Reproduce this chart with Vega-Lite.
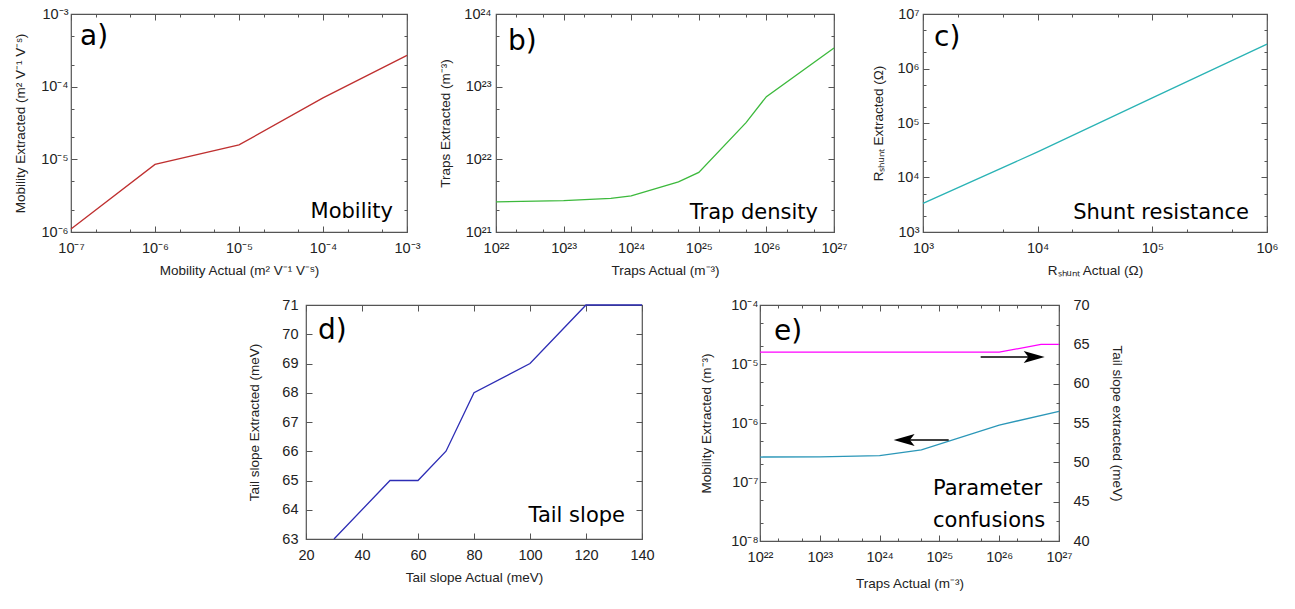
{
  "$schema": "https://vega.github.io/schema/vega-lite/v6.json",
  "background": "white",
  "padding": {"left": 13, "top": 5, "right": 5, "bottom": 5},
  "config": {
    "view": {"stroke": "#555555", "strokeWidth": 1.2},
    "axis": {"domain": false, "grid": false, "labelFont": "Liberation Sans", "labelFontSize": 14.5, "labelColor": "#222222", "titleFont": "Liberation Sans", "titleFontSize": 13.5, "titleFontWeight": "normal", "titleColor": "#222222", "tickColor": "#555555", "tickWidth": 1, "labelFlush": false, "labelOverlap": false, "labelBound": false},
    "text": {"font": "DejaVu Sans", "color": "#000000"}
  },
  "spacing": 18,
  "vconcat": [
    {
      "bounds": "flush",
      "spacing": 89,
      "hconcat": [
        {
          "width": 336, "height": 218,
          "resolve": {"axis": {"x": "independent", "y": "independent"}},
          "layer": [
            {
              "data": {"values": [{"actual": 1e-7, "extracted": 1.1e-6}, {"actual": 1e-6, "extracted": 8.5e-6}, {"actual": 1e-5, "extracted": 1.58e-5}, {"actual": 1e-4, "extracted": 7.0e-5}, {"actual": 1e-3, "extracted": 2.7e-4}]},
              "mark": {"type": "line", "color": "#bf3030", "strokeWidth": 1.3},
              "encoding": {
                "x": {"field": "actual", "type": "quantitative", "scale": {"type": "log", "domain": [1e-7, 1e-3], "nice": false},
                  "axis": {"orient": "bottom", "labelOverlap": false, "values": [1e-7, 2e-7, 5e-7, 1e-6, 2e-6, 5e-6, 1e-5, 2e-5, 5e-5, 0.0001, 0.0002, 0.0005, 0.001],
                    "labelExpr": "abs(log(datum.value)/LN10 - round(log(datum.value)/LN10)) > 0.01 ? '' : '10' + (round(log(datum.value)/LN10) < 0 ? '⁻' : '') + (abs(round(log(datum.value)/LN10)) >= 10 ? substring('⁰¹²³⁴⁵⁶⁷⁸⁹', floor(abs(round(log(datum.value)/LN10))/10), floor(abs(round(log(datum.value)/LN10))/10) + 1) : '') + substring('⁰¹²³⁴⁵⁶⁷⁸⁹', abs(round(log(datum.value)/LN10)) % 10, abs(round(log(datum.value)/LN10)) % 10 + 1)",
                    "tickSize": {"condition": {"test": "abs(log(datum.value)/LN10 - round(log(datum.value)/LN10)) < 0.01", "value": -6}, "value": -3},
                    "labelPadding": 15, "title": "Mobility Actual (m² V⁻¹ V⁻ˢ)", "titlePadding": 6}},
                "y": {"field": "extracted", "type": "quantitative", "scale": {"type": "log", "domain": [1e-6, 1e-3], "nice": false},
                  "axis": {"orient": "left", "labelOverlap": false, "values": [1e-6, 2e-6, 5e-6, 1e-5, 2e-5, 5e-5, 0.0001, 0.0002, 0.0005, 0.001],
                    "labelExpr": "abs(log(datum.value)/LN10 - round(log(datum.value)/LN10)) > 0.01 ? '' : '10' + (round(log(datum.value)/LN10) < 0 ? '⁻' : '') + (abs(round(log(datum.value)/LN10)) >= 10 ? substring('⁰¹²³⁴⁵⁶⁷⁸⁹', floor(abs(round(log(datum.value)/LN10))/10), floor(abs(round(log(datum.value)/LN10))/10) + 1) : '') + substring('⁰¹²³⁴⁵⁶⁷⁸⁹', abs(round(log(datum.value)/LN10)) % 10, abs(round(log(datum.value)/LN10)) % 10 + 1)",
                    "tickSize": {"condition": {"test": "abs(log(datum.value)/LN10 - round(log(datum.value)/LN10)) < 0.01", "value": -6}, "value": -3},
                    "labelPadding": 9, "title": "Mobility Extracted (m² V⁻¹ V⁻ˢ)", "titlePadding": 13}}
              }
            },
            {
              "data": {"values": [{}]},
              "mark": {"type": "text", "fontSize": 28, "align": "left", "baseline": "alphabetic", "dx": 9, "dy": 31},
              "encoding": {
                "x": {"datum": 1e-7, "type": "quantitative", "scale": {"type": "log", "domain": [1e-7, 1e-3], "nice": false},
                  "axis": {"orient": "top", "labels": false, "title": null, "values": [1e-7, 2e-7, 5e-7, 1e-6, 2e-6, 5e-6, 1e-5, 2e-5, 5e-5, 0.0001, 0.0002, 0.0005, 0.001],
                    "tickSize": {"condition": {"test": "abs(log(datum.value)/LN10 - round(log(datum.value)/LN10)) < 0.01", "value": -6}, "value": -3}}},
                "y": {"datum": 1e-3, "type": "quantitative", "scale": {"type": "log", "domain": [1e-6, 1e-3], "nice": false},
                  "axis": {"orient": "right", "labels": false, "title": null, "values": [1e-6, 2e-6, 5e-6, 1e-5, 2e-5, 5e-5, 0.0001, 0.0002, 0.0005, 0.001],
                    "tickSize": {"condition": {"test": "abs(log(datum.value)/LN10 - round(log(datum.value)/LN10)) < 0.01", "value": -6}, "value": -3}}},
                "text": {"value": "a)"}
              }
            },
            {
              "data": {"values": [{}]},
              "mark": {"type": "text", "fontSize": 21, "align": "right", "baseline": "alphabetic", "dx": -14, "dy": -14},
              "encoding": {
                "x": {"datum": 1e-3, "type": "quantitative", "scale": {"type": "log", "domain": [1e-7, 1e-3], "nice": false}, "axis": null},
                "y": {"datum": 1e-6, "type": "quantitative", "scale": {"type": "log", "domain": [1e-6, 1e-3], "nice": false}, "axis": null},
                "text": {"value": "Mobility"}
              }
            }
          ]
        },
        {
          "width": 338, "height": 218,
          "resolve": {"axis": {"x": "independent", "y": "independent"}},
          "layer": [
            {
              "data": {"values": [{"actual": 1e22, "extracted": 2.6e21}, {"actual": 1e23, "extracted": 2.7e21}, {"actual": 5e23, "extracted": 2.9e21}, {"actual": 1e24, "extracted": 3.15e21}, {"actual": 5e24, "extracted": 4.9e21}, {"actual": 1e25, "extracted": 6.6e21}, {"actual": 5e25, "extracted": 3.2e22}, {"actual": 1e26, "extracted": 7.3e22}, {"actual": 1e27, "extracted": 3.4e23}]},
              "mark": {"type": "line", "color": "#3cb93c", "strokeWidth": 1.3},
              "encoding": {
                "x": {"field": "actual", "type": "quantitative", "scale": {"type": "log", "domain": [1e22, 1e27], "nice": false},
                  "axis": {"orient": "bottom", "labelOverlap": false, "values": [1e22, 2e22, 5e22, 1e23, 2e23, 5e23, 1e24, 2e24, 5e24, 1e25, 2e25, 5e25, 1e26, 2e26, 5e26, 1e27],
                    "labelExpr": "abs(log(datum.value)/LN10 - round(log(datum.value)/LN10)) > 0.01 ? '' : '10' + (round(log(datum.value)/LN10) < 0 ? '⁻' : '') + (abs(round(log(datum.value)/LN10)) >= 10 ? substring('⁰¹²³⁴⁵⁶⁷⁸⁹', floor(abs(round(log(datum.value)/LN10))/10), floor(abs(round(log(datum.value)/LN10))/10) + 1) : '') + substring('⁰¹²³⁴⁵⁶⁷⁸⁹', abs(round(log(datum.value)/LN10)) % 10, abs(round(log(datum.value)/LN10)) % 10 + 1)",
                    "tickSize": {"condition": {"test": "abs(log(datum.value)/LN10 - round(log(datum.value)/LN10)) < 0.01", "value": -6}, "value": -3},
                    "labelPadding": 15, "title": "Traps Actual (m⁻³)", "titlePadding": 6}},
                "y": {"field": "extracted", "type": "quantitative", "scale": {"type": "log", "domain": [1e21, 1e24], "nice": false},
                  "axis": {"orient": "left", "labelOverlap": false, "values": [1e21, 2e21, 5e21, 1e22, 2e22, 5e22, 1e23, 2e23, 5e23, 1e24],
                    "labelExpr": "abs(log(datum.value)/LN10 - round(log(datum.value)/LN10)) > 0.01 ? '' : '10' + (round(log(datum.value)/LN10) < 0 ? '⁻' : '') + (abs(round(log(datum.value)/LN10)) >= 10 ? substring('⁰¹²³⁴⁵⁶⁷⁸⁹', floor(abs(round(log(datum.value)/LN10))/10), floor(abs(round(log(datum.value)/LN10))/10) + 1) : '') + substring('⁰¹²³⁴⁵⁶⁷⁸⁹', abs(round(log(datum.value)/LN10)) % 10, abs(round(log(datum.value)/LN10)) % 10 + 1)",
                    "tickSize": {"condition": {"test": "abs(log(datum.value)/LN10 - round(log(datum.value)/LN10)) < 0.01", "value": -6}, "value": -3},
                    "labelPadding": 11, "title": "Traps Extracted (m⁻³)", "titlePadding": 11}}
              }
            },
            {
              "data": {"values": [{}]},
              "mark": {"type": "text", "fontSize": 28, "align": "left", "baseline": "alphabetic", "dx": 12, "dy": 36},
              "encoding": {
                "x": {"datum": 1e22, "type": "quantitative", "scale": {"type": "log", "domain": [1e22, 1e27], "nice": false},
                  "axis": {"orient": "top", "labels": false, "title": null, "values": [1e22, 2e22, 5e22, 1e23, 2e23, 5e23, 1e24, 2e24, 5e24, 1e25, 2e25, 5e25, 1e26, 2e26, 5e26, 1e27],
                    "tickSize": {"condition": {"test": "abs(log(datum.value)/LN10 - round(log(datum.value)/LN10)) < 0.01", "value": -6}, "value": -3}}},
                "y": {"datum": 1e24, "type": "quantitative", "scale": {"type": "log", "domain": [1e21, 1e24], "nice": false},
                  "axis": {"orient": "right", "labels": false, "title": null, "values": [1e21, 2e21, 5e21, 1e22, 2e22, 5e22, 1e23, 2e23, 5e23, 1e24],
                    "tickSize": {"condition": {"test": "abs(log(datum.value)/LN10 - round(log(datum.value)/LN10)) < 0.01", "value": -6}, "value": -3}}},
                "text": {"value": "b)"}
              }
            },
            {
              "data": {"values": [{}]},
              "mark": {"type": "text", "fontSize": 21, "align": "right", "baseline": "alphabetic", "dx": -16, "dy": -13},
              "encoding": {
                "x": {"datum": 1e27, "type": "quantitative", "scale": {"type": "log", "domain": [1e22, 1e27], "nice": false}, "axis": null},
                "y": {"datum": 1e21, "type": "quantitative", "scale": {"type": "log", "domain": [1e21, 1e24], "nice": false}, "axis": null},
                "text": {"value": "Trap density"}
              }
            }
          ]
        },
        {
          "width": 344, "height": 218,
          "resolve": {"axis": {"x": "independent", "y": "independent"}},
          "layer": [
            {
              "data": {"values": [{"actual": 1000, "extracted": 3350}, {"actual": 10000, "extracted": 29500}, {"actual": 100000, "extracted": 290000}, {"actual": 1000000, "extracted": 2800000}]},
              "mark": {"type": "line", "color": "#2ab3b5", "strokeWidth": 1.3},
              "encoding": {
                "x": {"field": "actual", "type": "quantitative", "scale": {"type": "log", "domain": [1000, 1000000], "nice": false},
                  "axis": {"orient": "bottom", "labelOverlap": false, "values": [1000, 2000, 5000, 10000, 20000, 50000, 100000, 200000, 500000, 1000000],
                    "labelExpr": "abs(log(datum.value)/LN10 - round(log(datum.value)/LN10)) > 0.01 ? '' : '10' + (round(log(datum.value)/LN10) < 0 ? '⁻' : '') + (abs(round(log(datum.value)/LN10)) >= 10 ? substring('⁰¹²³⁴⁵⁶⁷⁸⁹', floor(abs(round(log(datum.value)/LN10))/10), floor(abs(round(log(datum.value)/LN10))/10) + 1) : '') + substring('⁰¹²³⁴⁵⁶⁷⁸⁹', abs(round(log(datum.value)/LN10)) % 10, abs(round(log(datum.value)/LN10)) % 10 + 1)",
                    "tickSize": {"condition": {"test": "abs(log(datum.value)/LN10 - round(log(datum.value)/LN10)) < 0.01", "value": -6}, "value": -3},
                    "labelPadding": 15, "title": "Rₛₕᵤₙₜ Actual (Ω)", "titlePadding": 6}},
                "y": {"field": "extracted", "type": "quantitative", "scale": {"type": "log", "domain": [1000, 10000000], "nice": false},
                  "axis": {"orient": "left", "labelOverlap": false, "values": [1000, 2000, 5000, 10000, 20000, 50000, 100000, 200000, 500000, 1000000, 2000000, 5000000, 10000000],
                    "labelExpr": "abs(log(datum.value)/LN10 - round(log(datum.value)/LN10)) > 0.01 ? '' : '10' + (round(log(datum.value)/LN10) < 0 ? '⁻' : '') + (abs(round(log(datum.value)/LN10)) >= 10 ? substring('⁰¹²³⁴⁵⁶⁷⁸⁹', floor(abs(round(log(datum.value)/LN10))/10), floor(abs(round(log(datum.value)/LN10))/10) + 1) : '') + substring('⁰¹²³⁴⁵⁶⁷⁸⁹', abs(round(log(datum.value)/LN10)) % 10, abs(round(log(datum.value)/LN10)) % 10 + 1)",
                    "tickSize": {"condition": {"test": "abs(log(datum.value)/LN10 - round(log(datum.value)/LN10)) < 0.01", "value": -6}, "value": -3},
                    "labelPadding": 10, "title": "Rₛₕᵤₙₜ Extracted (Ω)", "titlePadding": 11}}
              }
            },
            {
              "data": {"values": [{}]},
              "mark": {"type": "text", "fontSize": 28, "align": "left", "baseline": "alphabetic", "dx": 11, "dy": 32},
              "encoding": {
                "x": {"datum": 1000, "type": "quantitative", "scale": {"type": "log", "domain": [1000, 1000000], "nice": false},
                  "axis": {"orient": "top", "labels": false, "title": null, "values": [1000, 2000, 5000, 10000, 20000, 50000, 100000, 200000, 500000, 1000000],
                    "tickSize": {"condition": {"test": "abs(log(datum.value)/LN10 - round(log(datum.value)/LN10)) < 0.01", "value": -6}, "value": -3}}},
                "y": {"datum": 10000000, "type": "quantitative", "scale": {"type": "log", "domain": [1000, 10000000], "nice": false},
                  "axis": {"orient": "right", "labels": false, "title": null, "values": [1000, 2000, 5000, 10000, 20000, 50000, 100000, 200000, 500000, 1000000, 2000000, 5000000, 10000000],
                    "tickSize": {"condition": {"test": "abs(log(datum.value)/LN10 - round(log(datum.value)/LN10)) < 0.01", "value": -6}, "value": -3}}},
                "text": {"value": "c)"}
              }
            },
            {
              "data": {"values": [{}]},
              "mark": {"type": "text", "fontSize": 21, "align": "right", "baseline": "alphabetic", "dx": -18, "dy": -13},
              "encoding": {
                "x": {"datum": 1000000, "type": "quantitative", "scale": {"type": "log", "domain": [1000, 1000000], "nice": false}, "axis": null},
                "y": {"datum": 1000, "type": "quantitative", "scale": {"type": "log", "domain": [1000, 10000000], "nice": false}, "axis": null},
                "text": {"value": "Shunt resistance"}
              }
            }
          ]
        }
      ]
    },
    {
      "bounds": "flush",
      "spacing": 118,
      "hconcat": [
        {
          "width": 117, "height": 10,
          "view": {"stroke": null},
          "data": {"values": []},
          "mark": "point",
          "encoding": {}
        },
        {
          "width": 336, "height": 234,
          "resolve": {"axis": {"x": "independent", "y": "independent"}},
          "layer": [
            {
              "data": {"values": [{"actual": 30, "extracted": 63}, {"actual": 50, "extracted": 65}, {"actual": 60, "extracted": 65}, {"actual": 70, "extracted": 66}, {"actual": 80, "extracted": 68}, {"actual": 100, "extracted": 69}, {"actual": 120, "extracted": 71}, {"actual": 140, "extracted": 71}]},
              "mark": {"type": "line", "color": "#2d2db5", "strokeWidth": 1.3},
              "encoding": {
                "x": {"field": "actual", "type": "quantitative", "scale": {"domain": [20, 140], "nice": false, "zero": false},
                  "axis": {"orient": "bottom", "labelOverlap": false, "values": [20, 40, 60, 80, 100, 120, 140], "tickSize": -6, "labelPadding": 15, "title": "Tail slope Actual (meV)", "titlePadding": 9}},
                "y": {"field": "extracted", "type": "quantitative", "scale": {"domain": [63, 71], "nice": false, "zero": false},
                  "axis": {"orient": "left", "labelOverlap": false, "values": [63, 64, 65, 66, 67, 68, 69, 70, 71], "tickSize": -6, "labelPadding": 14, "title": "Tail slope Extracted (meV)", "titlePadding": 20}}
              }
            },
            {
              "data": {"values": [{}]},
              "mark": {"type": "text", "fontSize": 28, "align": "left", "baseline": "alphabetic", "dx": 12, "dy": 34},
              "encoding": {
                "x": {"datum": 20, "type": "quantitative", "scale": {"domain": [20, 140], "nice": false, "zero": false},
                  "axis": {"orient": "top", "labels": false, "title": null, "values": [20, 40, 60, 80, 100, 120, 140], "tickSize": -6}},
                "y": {"datum": 71, "type": "quantitative", "scale": {"domain": [63, 71], "nice": false, "zero": false},
                  "axis": {"orient": "right", "labels": false, "title": null, "values": [63, 64, 65, 66, 67, 68, 69, 70, 71], "tickSize": -6}},
                "text": {"value": "d)"}
              }
            },
            {
              "data": {"values": [{}]},
              "mark": {"type": "text", "fontSize": 21, "align": "right", "baseline": "alphabetic", "dx": -17, "dy": -17},
              "encoding": {
                "x": {"datum": 140, "type": "quantitative", "scale": {"domain": [20, 140], "nice": false, "zero": false}, "axis": null},
                "y": {"datum": 63, "type": "quantitative", "scale": {"domain": [63, 71], "nice": false, "zero": false}, "axis": null},
                "text": {"value": "Tail slope"}
              }
            }
          ]
        },
        {
          "width": 299, "height": 236,
          "resolve": {"scale": {"y": "independent"}, "axis": {"x": "independent", "y": "independent"}},
          "layer": [
            {
              "data": {"values": [{"actual": 1e22, "mobility": 2.65e-7}, {"actual": 1e23, "mobility": 2.67e-7}, {"actual": 1e24, "mobility": 2.8e-7}, {"actual": 5e24, "mobility": 3.5e-7}, {"actual": 1e26, "mobility": 9.2e-7}, {"actual": 1e27, "mobility": 1.58e-6}]},
              "mark": {"type": "line", "color": "#2b97b8", "strokeWidth": 1.3},
              "encoding": {
                "x": {"field": "actual", "type": "quantitative", "scale": {"type": "log", "domain": [1e22, 1e27], "nice": false},
                  "axis": {"orient": "bottom", "labelOverlap": false, "values": [1e22, 2e22, 5e22, 1e23, 2e23, 5e23, 1e24, 2e24, 5e24, 1e25, 2e25, 5e25, 1e26, 2e26, 5e26, 1e27],
                    "labelExpr": "abs(log(datum.value)/LN10 - round(log(datum.value)/LN10)) > 0.01 ? '' : '10' + (round(log(datum.value)/LN10) < 0 ? '⁻' : '') + (abs(round(log(datum.value)/LN10)) >= 10 ? substring('⁰¹²³⁴⁵⁶⁷⁸⁹', floor(abs(round(log(datum.value)/LN10))/10), floor(abs(round(log(datum.value)/LN10))/10) + 1) : '') + substring('⁰¹²³⁴⁵⁶⁷⁸⁹', abs(round(log(datum.value)/LN10)) % 10, abs(round(log(datum.value)/LN10)) % 10 + 1)",
                    "tickSize": {"condition": {"test": "abs(log(datum.value)/LN10 - round(log(datum.value)/LN10)) < 0.01", "value": -6}, "value": -3},
                    "labelPadding": 15, "title": "Traps Actual (m⁻³)", "titlePadding": 10}},
                "y": {"field": "mobility", "type": "quantitative", "scale": {"type": "log", "domain": [1e-8, 1e-4], "nice": false},
                  "axis": {"orient": "left", "labelOverlap": false, "values": [1e-8, 2e-8, 5e-8, 1e-7, 2e-7, 5e-7, 1e-6, 2e-6, 5e-6, 1e-5, 2e-5, 5e-5, 0.0001],
                    "labelExpr": "abs(log(datum.value)/LN10 - round(log(datum.value)/LN10)) > 0.01 ? '' : '10' + (round(log(datum.value)/LN10) < 0 ? '⁻' : '') + (abs(round(log(datum.value)/LN10)) >= 10 ? substring('⁰¹²³⁴⁵⁶⁷⁸⁹', floor(abs(round(log(datum.value)/LN10))/10), floor(abs(round(log(datum.value)/LN10))/10) + 1) : '') + substring('⁰¹²³⁴⁵⁶⁷⁸⁹', abs(round(log(datum.value)/LN10)) % 10, abs(round(log(datum.value)/LN10)) % 10 + 1)",
                    "tickSize": {"condition": {"test": "abs(log(datum.value)/LN10 - round(log(datum.value)/LN10)) < 0.01", "value": -6}, "value": -3},
                    "labelPadding": 8, "title": "Mobility Extracted (m⁻³)", "titlePadding": 17}}
              }
            },
            {
              "data": {"values": [{"actual": 1e22, "tail": 64}, {"actual": 1e26, "tail": 64}, {"actual": 5e26, "tail": 65}, {"actual": 1e27, "tail": 65}]},
              "mark": {"type": "line", "color": "#ff00ff", "strokeWidth": 1.3},
              "encoding": {
                "x": {"field": "actual", "type": "quantitative", "scale": {"type": "log", "domain": [1e22, 1e27], "nice": false},
                  "axis": {"orient": "top", "labels": false, "title": null, "values": [1e22, 2e22, 5e22, 1e23, 2e23, 5e23, 1e24, 2e24, 5e24, 1e25, 2e25, 5e25, 1e26, 2e26, 5e26, 1e27],
                    "tickSize": {"condition": {"test": "abs(log(datum.value)/LN10 - round(log(datum.value)/LN10)) < 0.01", "value": -6}, "value": -3}}},
                "y": {"field": "tail", "type": "quantitative", "scale": {"domain": [40, 70], "nice": false, "zero": false},
                  "axis": {"orient": "right", "labelOverlap": false, "values": [40, 42.5, 45, 47.5, 50, 52.5, 55, 57.5, 60, 62.5, 65, 67.5, 70],
                    "labelExpr": "datum.value % 5 == 0 ? datum.label : ''",
                    "tickSize": {"condition": {"test": "datum.value % 5 == 0", "value": -6}, "value": -3},
                    "labelPadding": 20, "title": "Tail slope extracted (meV)", "titlePadding": 20}}
              }
            },
            {
              "data": {"values": [{}]},
              "mark": {"type": "rule", "color": "#000000", "strokeWidth": 1.5},
              "encoding": {
                "x": {"datum": 1.43e25, "type": "quantitative", "scale": {"type": "log", "domain": [1e22, 1e27], "nice": false}, "axis": null},
                "x2": {"datum": 2.6e24},
                "y": {"datum": 5.15e-7, "type": "quantitative", "scale": {"type": "log", "domain": [1e-8, 1e-4], "nice": false}, "axis": null}
              }
            },
            {
              "data": {"values": [{}]},
              "mark": {"type": "point", "shape": "M-1,0L1,-0.57L0.55,0L1,0.57Z", "filled": true, "color": "#000000", "opacity": 1, "size": 441},
              "encoding": {
                "x": {"datum": 2.57e24, "type": "quantitative", "scale": {"type": "log", "domain": [1e22, 1e27], "nice": false}, "axis": null},
                "y": {"datum": 5.15e-7, "type": "quantitative", "scale": {"type": "log", "domain": [1e-8, 1e-4], "nice": false}, "axis": null}
              }
            },
            {
              "data": {"values": [{}]},
              "mark": {"type": "rule", "color": "#000000", "strokeWidth": 1.5},
              "encoding": {
                "x": {"datum": 4.9e25, "type": "quantitative", "scale": {"type": "log", "domain": [1e22, 1e27], "nice": false}, "axis": null},
                "x2": {"datum": 3.9e26},
                "y": {"datum": 63.4, "type": "quantitative", "scale": {"domain": [40, 70], "nice": false, "zero": false}, "axis": null}
              }
            },
            {
              "data": {"values": [{}]},
              "mark": {"type": "point", "shape": "M1,0L-1,-0.57L-0.55,0L-1,0.57Z", "filled": true, "color": "#000000", "opacity": 1, "size": 441},
              "encoding": {
                "x": {"datum": 3.85e26, "type": "quantitative", "scale": {"type": "log", "domain": [1e22, 1e27], "nice": false}, "axis": null},
                "y": {"datum": 63.4, "type": "quantitative", "scale": {"domain": [40, 70], "nice": false, "zero": false}, "axis": null}
              }
            },
            {
              "data": {"values": [{}]},
              "mark": {"type": "text", "fontSize": 28, "align": "left", "baseline": "alphabetic", "dx": 14, "dy": 35},
              "encoding": {
                "x": {"datum": 1e22, "type": "quantitative", "scale": {"type": "log", "domain": [1e22, 1e27], "nice": false}, "axis": null},
                "y": {"datum": 0.0001, "type": "quantitative", "scale": {"type": "log", "domain": [1e-8, 1e-4], "nice": false}, "axis": null},
                "text": {"value": "e)"}
              }
            },
            {
              "data": {"values": [{}]},
              "mark": {"type": "text", "fontSize": 21, "align": "left", "baseline": "alphabetic", "lineHeight": 32, "dx": -126, "dy": -46},
              "encoding": {
                "x": {"datum": 1e27, "type": "quantitative", "scale": {"type": "log", "domain": [1e22, 1e27], "nice": false}, "axis": null},
                "y": {"datum": 1e-8, "type": "quantitative", "scale": {"type": "log", "domain": [1e-8, 1e-4], "nice": false}, "axis": null},
                "text": {"value": ["Parameter", "confusions"]}
              }
            }
          ]
        }
      ]
    }
  ]
}
